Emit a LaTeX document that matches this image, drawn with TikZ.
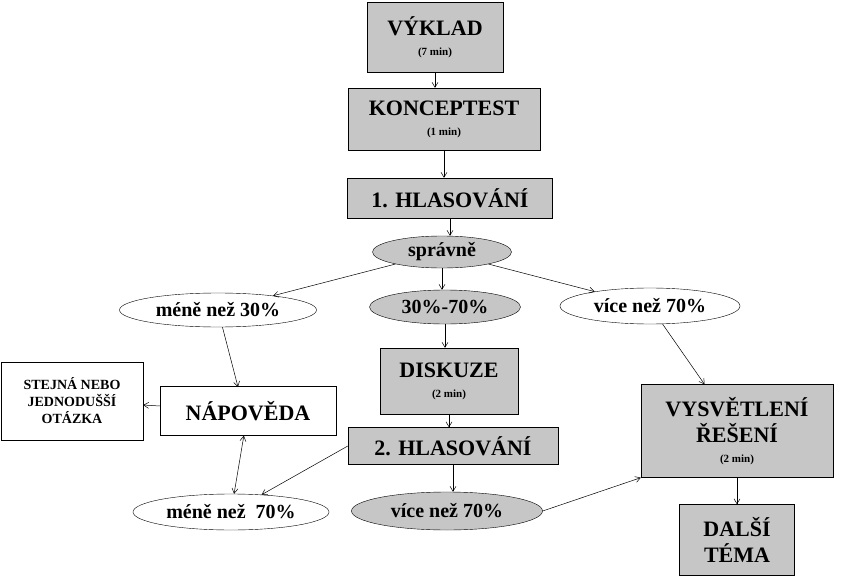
\documentclass[tikz,border=0pt]{standalone}
\usepackage{fontspec}
\setmainfont{Liberation Serif}
\usetikzlibrary{arrows.meta,shapes.geometric}
\begin{document}
\begin{tikzpicture}[x=1pt,y=-1pt,
  gbox/.style={draw,fill=gray!45,font=\bfseries\fontsize{22}{22}\selectfont,align=center,inner sep=0pt},
  wbox/.style={draw,fill=white,font=\bfseries\fontsize{22}{22}\selectfont,align=center,inner sep=0pt},
  gell/.style={draw,ellipse,fill=gray!45,font=\bfseries\fontsize{20}{20}\selectfont,inner sep=0pt},
  well/.style={draw,ellipse,fill=white,font=\bfseries\fontsize{20}{20}\selectfont,inner sep=0pt},
  arr/.style={-{Straight Barb[length=5pt,width=6pt]},line width=0.5pt}]
\useasboundingbox (0,0) rectangle (855,586);
\node[gbox,minimum width=136pt,minimum height=70pt] (vyk) at (435,37) {VÝKLAD\\[-2pt]{\fontsize{11}{12}\selectfont (7 min)}};
\node[gbox,minimum width=192pt,minimum height=62pt] (kon) at (444,119) {KONCEPTEST\\[-2pt]{\fontsize{11}{12}\selectfont (1 min)}};
\node[gbox,minimum width=205pt,minimum height=40pt] (h1) at (450,198) {1. HLASOVÁNÍ};
\node[gell,minimum width=139pt,minimum height=32pt] (spr) at (442,252) {správně};
\node[well,minimum width=197pt,minimum height=34pt] (m30) at (218,310) {méně než 30\%};
\node[gell,minimum width=151pt,minimum height=34pt] (s37) at (445,307) {30\%-70\%};
\node[well,minimum width=180pt,minimum height=36pt] (v70) at (650,306) {více než 70\%};
\node[gbox,minimum width=138pt,minimum height=66pt] (dis) at (449,381) {DISKUZE\\[-2pt]{\fontsize{11}{12}\selectfont (2 min)}};
\node[wbox,minimum width=142pt,minimum height=78pt,font=\bfseries\fontsize{14}{17}\selectfont] (stj) at (72,401) {STEJNÁ NEBO\\JEDNODUŠŠÍ\\OTÁZKA};
\node[wbox,minimum width=176pt,minimum height=49pt] (nap) at (248,411) {NÁPOVĚDA};
\node[gbox,minimum width=210pt,minimum height=37pt] (h2) at (453,446) {2. HLASOVÁNÍ};
\node[gbox,minimum width=192pt,minimum height=93pt] (vys) at (737,431) {VYSVĚTLENÍ\\[4pt]ŘEŠENÍ\\[-2pt]{\fontsize{11}{12}\selectfont (2 min)}};
\node[well,minimum width=196pt,minimum height=36pt] (m70) at (231,512) {méně než~~70\%};
\node[gell,minimum width=191pt,minimum height=38pt] (v70b) at (447,511) {více než 70\%};
\node[gbox,minimum width=115pt,minimum height=71pt] (dal) at (737,540) {DALŠÍ\\[4pt]TÉMA};
\coordinate (napn) at (238,387);
\draw[arr] (vyk) -- (vyk|-kon.north);
\draw[arr] (kon) -- (kon|-h1.north);
\draw[arr] (h1) -- (h1|-spr.north);
\draw[arr] (spr) -- (m30);
\draw[arr] (spr) -- (spr|-s37.north);
\draw[arr] (spr) -- (v70);
\draw[arr] (m30) -- (napn);
\draw[arr] (s37) -- (s37|-dis.north);
\draw[arr] (v70) -- (vys);
\draw[arr] (nap) -- (stj);
\draw[arr] (dis) -- (dis|-h2.north);
\draw[arr] (h2.west) -- (m70);
\draw[arr,{Straight Barb[length=5pt,width=6pt]}-{Straight Barb[length=5pt,width=6pt]}] (m70) -- (nap);
\draw[arr] (h2) -- (h2|-v70b.north);
\draw[arr] (v70b.east) -- (vys.south west);
\draw[arr] (vys) -- (dal);
\end{tikzpicture}
\end{document}
